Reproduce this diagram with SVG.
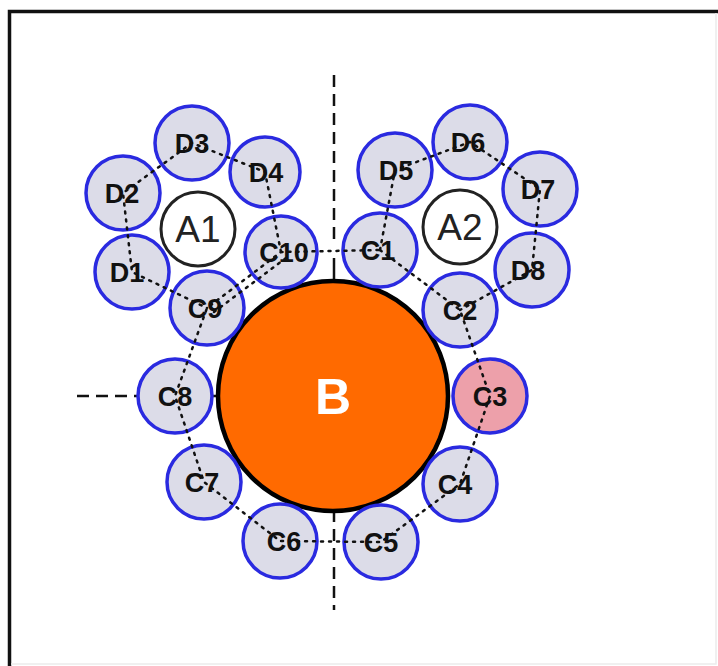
<svg xmlns="http://www.w3.org/2000/svg" width="718" height="666" viewBox="0 0 718 666">
<style>
.n{fill:#dcdce8;stroke:#2a2ae0;stroke-width:3.5}
.a{fill:#ffffff;stroke:#222;stroke-width:3}
.t{font-family:"Liberation Sans",Arial,sans-serif;font-weight:bold;font-size:27px;fill:#111;text-anchor:middle}
.ta{font-family:"Liberation Sans",Arial,sans-serif;font-size:37px;fill:#222;text-anchor:middle}
.dot{fill:none;stroke:#111;stroke-width:2.5;stroke-dasharray:2 6;stroke-linecap:round}
.dash{fill:none;stroke:#111;stroke-width:2.5;stroke-dasharray:12 7}
</style>
<rect width="718" height="666" fill="#fff"/>
<g id="frame">
<path d="M9.5,666 V11.5 H718" fill="none" stroke="#111" stroke-width="3.5"/>
<path d="M716,13 V664 H11" fill="none" stroke="#ececec" stroke-width="1.5"/>
</g>
<g id="axes">
<path class="dash" d="M334,75 V245"/>
<path d="M334,258 V283" stroke="#111" stroke-width="2.5"/>
<path class="dash" d="M77,396 H175"/>
<path d="M175,396 H218" stroke="#111" stroke-width="2.5"/>
<path class="dash" d="M334,510 V610"/>
</g>
<g id="B"><circle cx="333" cy="396" r="115" fill="#ff6a00" stroke="#000" stroke-width="4.5"/><text x="333" y="414" font-family="'Liberation Sans',Arial,sans-serif" font-weight="bold" font-size="50" fill="#fff" text-anchor="middle">B</text></g>
<g id="A1"><circle class="a" cx="198" cy="229" r="37"/><text class="ta" x="198" y="242">A1</text></g>
<g id="A2"><circle class="a" cx="460" cy="227" r="37"/><text class="ta" x="460" y="240">A2</text></g>
<g id="D3"><circle class="n" cx="192" cy="143" r="37"/><text class="t" x="192" y="153">D3</text></g>
<g id="D4"><circle class="n" cx="265" cy="172" r="35"/><text class="t" x="266" y="182">D4</text></g>
<g id="D2"><circle class="n" cx="123" cy="193" r="37"/><text class="t" x="122" y="203">D2</text></g>
<g id="D1"><circle class="n" cx="132" cy="272" r="37"/><text class="t" x="127" y="282">D1</text></g>
<g id="C10"><circle class="n" cx="281" cy="252" r="36"/><text class="t" x="284" y="262">C10</text></g>
<g id="C9"><circle class="n" cx="207" cy="308" r="37"/><text class="t" x="205" y="318">C9</text></g>
<g id="D6"><circle class="n" cx="470" cy="142" r="37"/><text class="t" x="468" y="152">D6</text></g>
<g id="D5"><circle class="n" cx="395" cy="170" r="37"/><text class="t" x="396" y="180">D5</text></g>
<g id="D7"><circle class="n" cx="540" cy="189" r="37"/><text class="t" x="538" y="199">D7</text></g>
<g id="C1"><circle class="n" cx="380" cy="250" r="37"/><text class="t" x="378" y="260">C1</text></g>
<g id="D8"><circle class="n" cx="532" cy="270" r="37"/><text class="t" x="528" y="280">D8</text></g>
<g id="C2"><circle class="n" cx="460" cy="310" r="37"/><text class="t" x="460" y="320">C2</text></g>
<g id="C3"><circle class="n" cx="490" cy="396" r="37" style="fill:#eda0aa"/><text class="t" x="490" y="406">C3</text></g>
<g id="C4"><circle class="n" cx="460" cy="484" r="37"/><text class="t" x="455" y="494">C4</text></g>
<g id="C5"><circle class="n" cx="381" cy="542" r="37"/><text class="t" x="381" y="552">C5</text></g>
<g id="C6"><circle class="n" cx="280" cy="541" r="37"/><text class="t" x="284" y="551">C6</text></g>
<g id="C7"><circle class="n" cx="204" cy="482" r="37"/><text class="t" x="202" y="492">C7</text></g>
<g id="C8"><circle class="n" cx="175" cy="396" r="37"/><text class="t" x="175" y="406">C8</text></g>
<g id="connectors">
<path class="dot" d="M380,250 L460,310 L490,396 L460,484 L381,542 L280,541 L204,482 L175,396 L207,308 L281,252 L380,250"/>
<path class="dot" d="M214,312 L286,258"/>
<path class="dot" d="M281,252 L265,172 L192,143 L123,193 L132,272 L207,308"/>
<path class="dot" d="M380,250 L395,170 L470,142 L540,189 L532,270 L460,310"/>
</g>
</svg>
